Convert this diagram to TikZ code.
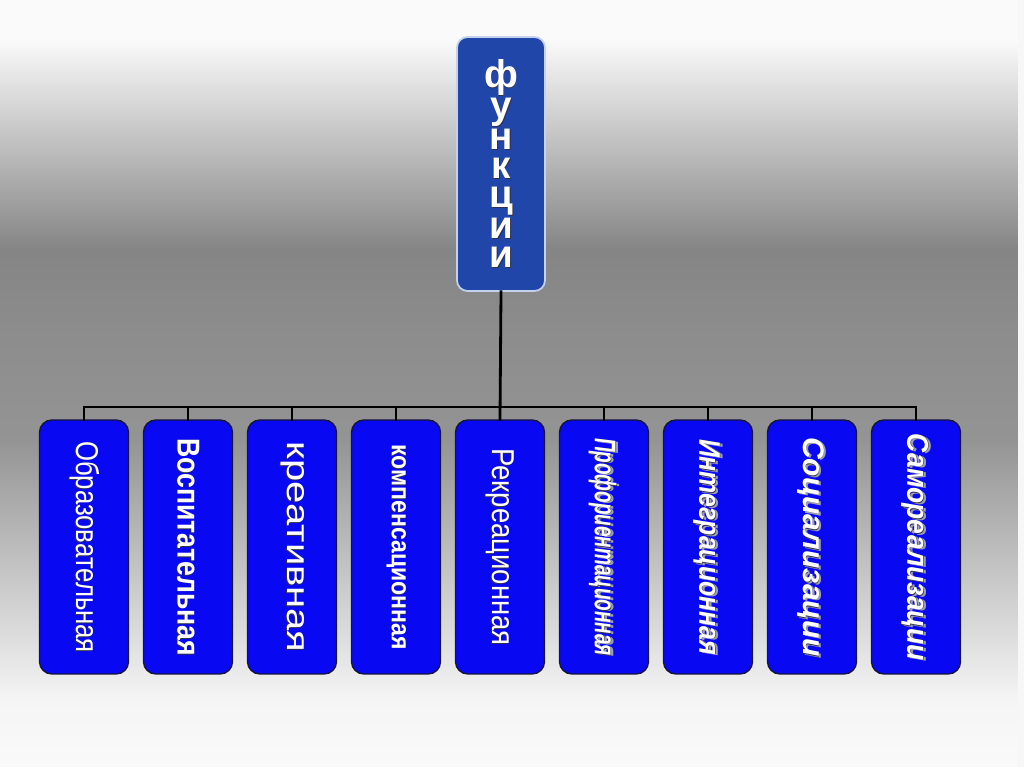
\documentclass[tikz,border=0pt]{standalone}
\usepackage{graphicx}
\usepackage{fontspec}
\setmainfont{Liberation Sans}
\usetikzlibrary{positioning}
\definecolor{headblue}{HTML}{2146A9}
\definecolor{headedge}{HTML}{C4D2EE}
\definecolor{boxblue}{HTML}{0808F2}
\definecolor{boxedge}{HTML}{14143C}
\definecolor{shade}{HTML}{30304A}
\definecolor{softshade}{HTML}{9C9CB2}
\newcommand{\edgesh}[1]{\makebox[0pt][l]{\hspace*{0.5pt}\raisebox{-0.5pt}{\color{shade}#1}}#1}
\newcommand{\dropsh}[1]{\makebox[0pt][l]{\hspace*{0.9pt}\raisebox{1.6pt}{\color{softshade}#1}}\makebox[0pt][l]{\hspace*{0.3pt}\raisebox{0.3pt}{\color{shade}#1}}#1}
\newcommand{\vlabel}[2]{\rotatebox{-90}{\resizebox{#1}{\height}{#2}}}
\tikzset{headbox/.style={draw=headedge,line width=1pt,fill=headblue,rounded corners=6pt,minimum width=1.76cm,minimum height=5.08cm,inner sep=0pt,text=white,align=center,font=\fontsize{22}{16.5}\selectfont\bfseries},
funcbox/.style={draw=boxedge,line width=0.8pt,fill=boxblue,rounded corners=7pt,minimum width=1.78cm,minimum height=5.08cm,inner sep=0pt,text=white,font=\fontsize{18}{20}\selectfont},
link/.style={line width=1.6pt,draw=black,line cap=rect}}

\begin{document}
\begin{tikzpicture}[x=0.02cm,y=-0.02cm]
\useasboundingbox (0,0) rectangle (1024,767);
% background
\fill[white!98!black] (0,0) rectangle (1024,40);
\shade[top color=white!98!black,bottom color=white!52!black] (0,40) rectangle (1024,250);
\shade[top color=white!52!black,bottom color=white!55!black] (0,250) rectangle (1024,330);
\shade[top color=white!55!black,bottom color=white!58!black] (0,330) rectangle (1024,440);
\shade[top color=white!58!black,bottom color=white!96!black] (0,440) rectangle (1024,700);
\shade[top color=white!96!black,bottom color=white!98!black] (0,700) rectangle (1024,767);
\fill[white!97!black] (1018,0) rectangle (1024,767);

\node[headbox] (func) at (501,164) {\edgesh{ф}\\\edgesh{у}\\\edgesh{н}\\\edgesh{к}\\\edgesh{ц}\\\edgesh{и}\\\edgesh{и}};

\node[funcbox] (b1) at (84,547) {\vlabel{4.24cm}{\edgesh{Образовательная}}};
\node[funcbox] (b2) at (188,547) {\vlabel{4.36cm}{\bfseries\edgesh{Воспитательная}}};
\node[funcbox] (b3) at (292,547) {\vlabel{4.22cm}{\edgesh{креативная}}};
\node[funcbox] (b4) at (396,547) {\vlabel{4.10cm}{\fontsize{15}{17}\selectfont\bfseries\edgesh{компенсационная}}};
\node[funcbox] (b5) at (500,547) {\vlabel{3.94cm}{\edgesh{Рекреационная}}};
\node[funcbox] (b6) at (604,547) {\vlabel{4.36cm}{\fontsize{17}{19}\selectfont\bfseries\itshape\dropsh{Профориентационная}}};
\node[funcbox] (b7) at (708,547) {\vlabel{4.32cm}{\fontsize{17}{19}\selectfont\bfseries\itshape\dropsh{Интеграционная}}};
\node[funcbox] (b8) at (812,547) {\vlabel{4.40cm}{\fontsize{17}{19}\selectfont\bfseries\itshape\dropsh{Социализации}}};
\node[funcbox] (b9) at (916,547) {\vlabel{4.54cm}{\fontsize{17}{19}\selectfont\bfseries\itshape\dropsh{Самореализации}}};

% connectors
\coordinate (bar) at (500,407);
\draw[link] (func.south) -- (b5.north);
\draw[link] (b1.north |- bar) -- (b9.north |- bar);
\foreach \i in {1,2,3,4,6,7,8,9}
  \draw[link] (b\i.north) -- (b\i.north |- bar);
\end{tikzpicture}
\end{document}
